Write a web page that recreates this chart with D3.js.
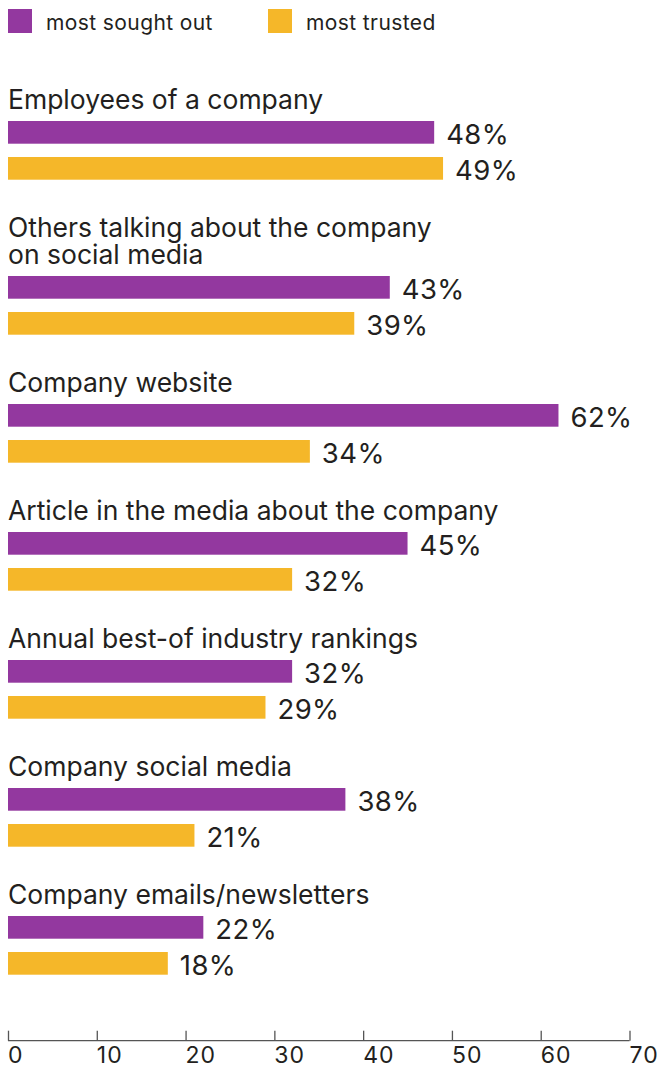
<!DOCTYPE html>
<html>
<head>
<meta charset="utf-8">
<script src="https://cdn.jsdelivr.net/npm/d3@7"></script>
<style>
  html, body { margin: 0; padding: 0; background: #fff; }
  svg { display: block; }
  text { font-family: Inter, "Noto Sans", sans-serif; fill: #231f20; }
</style>
</head>
<body>
<svg id="chart" width="660" height="1076"></svg>
<script>
// Sources people turn to when researching a company
const categories = [
  ["Employees of a company"],
  ["Others talking about the company", "on social media"],
  ["Company website"],
  ["Article in the media about the company"],
  ["Annual best-of industry rankings"],
  ["Company social media"],
  ["Company emails/newsletters"]
];
const soughtOut = [48, 43, 62, 45, 32, 38, 22];
const trusted   = [49, 39, 34, 32, 29, 21, 18];
const seriesNames = ["most sought out", "most trusted"];
const seriesColors = ["#93389f", "#f5b729"];
const axisTicks = [0, 10, 20, 30, 40, 50, 60, 70];

const svg = d3.select("#chart");

const x = d3.scaleLinear().domain([0, 70]).range([8, 629.5]);

// Vertical layout: each group = label lines + two bars
const barH = 22.7, barGap = 13.3, groupStep = 128, lineH = 27;
const firstBarTop = 121;
let extra = 0;
const groups = categories.map((lines, i) => {
  extra += (lines.length - 1) * lineH;
  return { lines, top: firstBarTop + i * groupStep + extra, values: [soughtOut[i], trusted[i]] };
});

// Legend
const legend = svg.append("g");
const legendX = [8, 268];
seriesNames.forEach((name, i) => {
  legend.append("rect")
    .attr("x", legendX[i]).attr("y", 9)
    .attr("width", 24).attr("height", 24)
    .attr("fill", seriesColors[i]);
  legend.append("text")
    .attr("x", legendX[i] + 38).attr("y", 30)
    .attr("font-size", 21)
    .attr("letter-spacing", 0.4)
    .text(name);
});

// Groups
const g = svg.append("g");
groups.forEach(grp => {
  const n = grp.lines.length;
  const label = g.append("text")
    .attr("font-size", 26.5);
  grp.lines.forEach((line, li) => {
    label.append("tspan")
      .attr("x", 8)
      .attr("y", grp.top - 12 - (n - 1 - li) * lineH)
      .text(line);
  });
  grp.values.forEach((v, si) => {
    const y0 = grp.top + si * (barH + barGap);
    g.append("rect")
      .attr("x", x(0)).attr("y", y0)
      .attr("width", x(v) - x(0)).attr("height", barH)
      .attr("fill", seriesColors[si]);
    g.append("text")
      .attr("x", x(v) + 12)
      .attr("y", y0 + barH + 0.5)
      .attr("font-size", 27.5)
      .attr("letter-spacing", 0.4)
      .text(v + "%");
  });
});

// Bottom axis
const axisY = 1040.7;
const axis = d3.axisTop(x)
  .tickValues(axisTicks)
  .tickSize(10)
  .tickFormat("");
const ax = svg.append("g")
  .attr("transform", `translate(0,${axisY})`)
  .call(axis);
ax.select(".domain").attr("stroke", "#555").attr("stroke-width", 1.3)
  .attr("d", `M${x(0)},0H${x(70)}`);
ax.selectAll(".tick line").attr("stroke", "#555").attr("stroke-width", 1.3);

svg.append("g").selectAll("text.ticklabel")
  .data(axisTicks)
  .join("text")
  .attr("class", "ticklabel")
  .attr("x", d => x(d))
  .attr("y", 1063)
  .attr("font-size", 23)
  .attr("letter-spacing", 1)
  .text(d => d);
</script>
</body>
</html>
